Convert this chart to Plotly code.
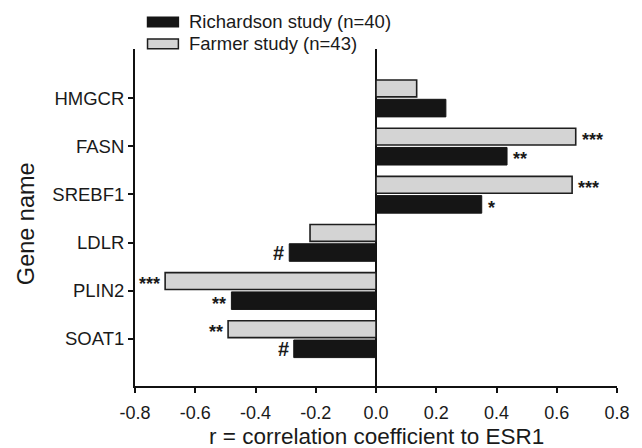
import plotly.graph_objects as go

genes = ["HMGCR", "FASN", "SREBF1", "LDLR", "PLIN2", "SOAT1"]
farmer = [0.135, 0.663, 0.651, -0.219, -0.700, -0.491]
richardson = [0.232, 0.435, 0.351, -0.288, -0.480, -0.273]
farmer_sig = ["", "***", "***", "", "***", "**"]
richardson_sig = ["", "**", "*", "#", "**", "#"]
x_ticks = [-0.8, -0.6, -0.4, -0.2, 0.0, 0.2, 0.4, 0.6, 0.8]
legend_names = ["Richardson study (n=40)", "Farmer study (n=43)"]

FONT = "Liberation Sans, Arial, Helvetica, sans-serif"
TXT = "#1a1a1a"
pos = list(range(len(genes)))

fig = go.Figure()
fig.add_trace(go.Bar(
    y=pos, x=farmer, orientation="h", name=legend_names[1],
    offset=-0.375, width=0.35,
    marker=dict(color="#d4d4d4", line=dict(color="#1e1e1e", width=1.6)),
    showlegend=False,
))
fig.add_trace(go.Bar(
    y=pos, x=richardson, orientation="h", name=legend_names[0],
    offset=0.025, width=0.365,
    marker=dict(color="#151515", line=dict(color="#151515", width=1)),
    showlegend=False,
))

annotations = []
for i in pos:
    for vals, sigs, dy in ((farmer, farmer_sig, -0.2), (richardson, richardson_sig, 0.21)):
        s = sigs[i]
        if not s:
            continue
        v = vals[i]
        star = s.startswith("*")
        annotations.append(dict(
            x=v, y=i + dy, xref="x", yref="y", text="<b>%s</b>" % s,
            showarrow=False, xanchor="left" if v > 0 else "right",
            xshift=4 if v > 0 else -3, yshift=-3 if star else 0,
            font=dict(family=FONT, size=18 if star else 20, color=TXT),
        ))

# custom legend (wide patches)
shapes = []
leg_rows = [(legend_names[0], "#151515", "#151515", 1.066, 1.094),
            (legend_names[1], "#d4d4d4", "#1e1e1e", 1.001, 1.030)]
for name, fill, line, y0, y1 in leg_rows:
    shapes.append(dict(type="rect", xref="paper", yref="paper",
                       x0=0.026, x1=0.090, y0=y0, y1=y1,
                       fillcolor=fill, line=dict(color=line, width=1.5)))
    annotations.append(dict(x=0.107, y=(y0 + y1) / 2 + 0.002, xref="paper", yref="paper",
                            text=name, showarrow=False, xanchor="left", yanchor="middle",
                            font=dict(family=FONT, size=18.5, color=TXT)))

annotations.append(dict(x=-0.227, y=0.482, xref="paper", yref="paper", text="Gene name",
                        textangle=-90, showarrow=False, xanchor="center", yanchor="middle",
                        font=dict(family=FONT, size=23.5, color=TXT)))
annotations.append(dict(x=0.5, y=-0.149, xref="paper", yref="paper",
                        text="r = correlation coefficient to ESR1",
                        showarrow=False, xanchor="center", yanchor="middle",
                        font=dict(family=FONT, size=22.5, color=TXT)))

# page body has an 8px margin: figure is 8px smaller and margins shifted accordingly
fig.update_layout(
    width=634, height=440,
    margin=dict(l=127, r=23, t=41, b=62),
    paper_bgcolor="white", plot_bgcolor="white",
    barmode="overlay",
    font=dict(family=FONT, color=TXT),
    shapes=shapes, annotations=annotations,
    xaxis=dict(range=[-0.8, 0.8], tickvals=x_ticks,
               ticktext=["%.1f" % t for t in x_ticks],
               showgrid=False, zeroline=True, zerolinecolor="#111", zerolinewidth=2,
               showline=True, linecolor="#111", linewidth=2,
               ticks="outside", ticklen=5, tickwidth=2, tickcolor="#111",
               ticklabelstandoff=4,
               tickfont=dict(family=FONT, size=18, color=TXT)),
    yaxis=dict(range=[5.98, -1.02], tickvals=pos, ticktext=genes,
               showgrid=False, zeroline=False,
               showline=True, linecolor="#111", linewidth=2,
               ticks="outside", ticklen=5, tickwidth=2, tickcolor="#111",
               tickfont=dict(family=FONT, size=18.5, color=TXT)),
)

fig.write_html("out.html")
